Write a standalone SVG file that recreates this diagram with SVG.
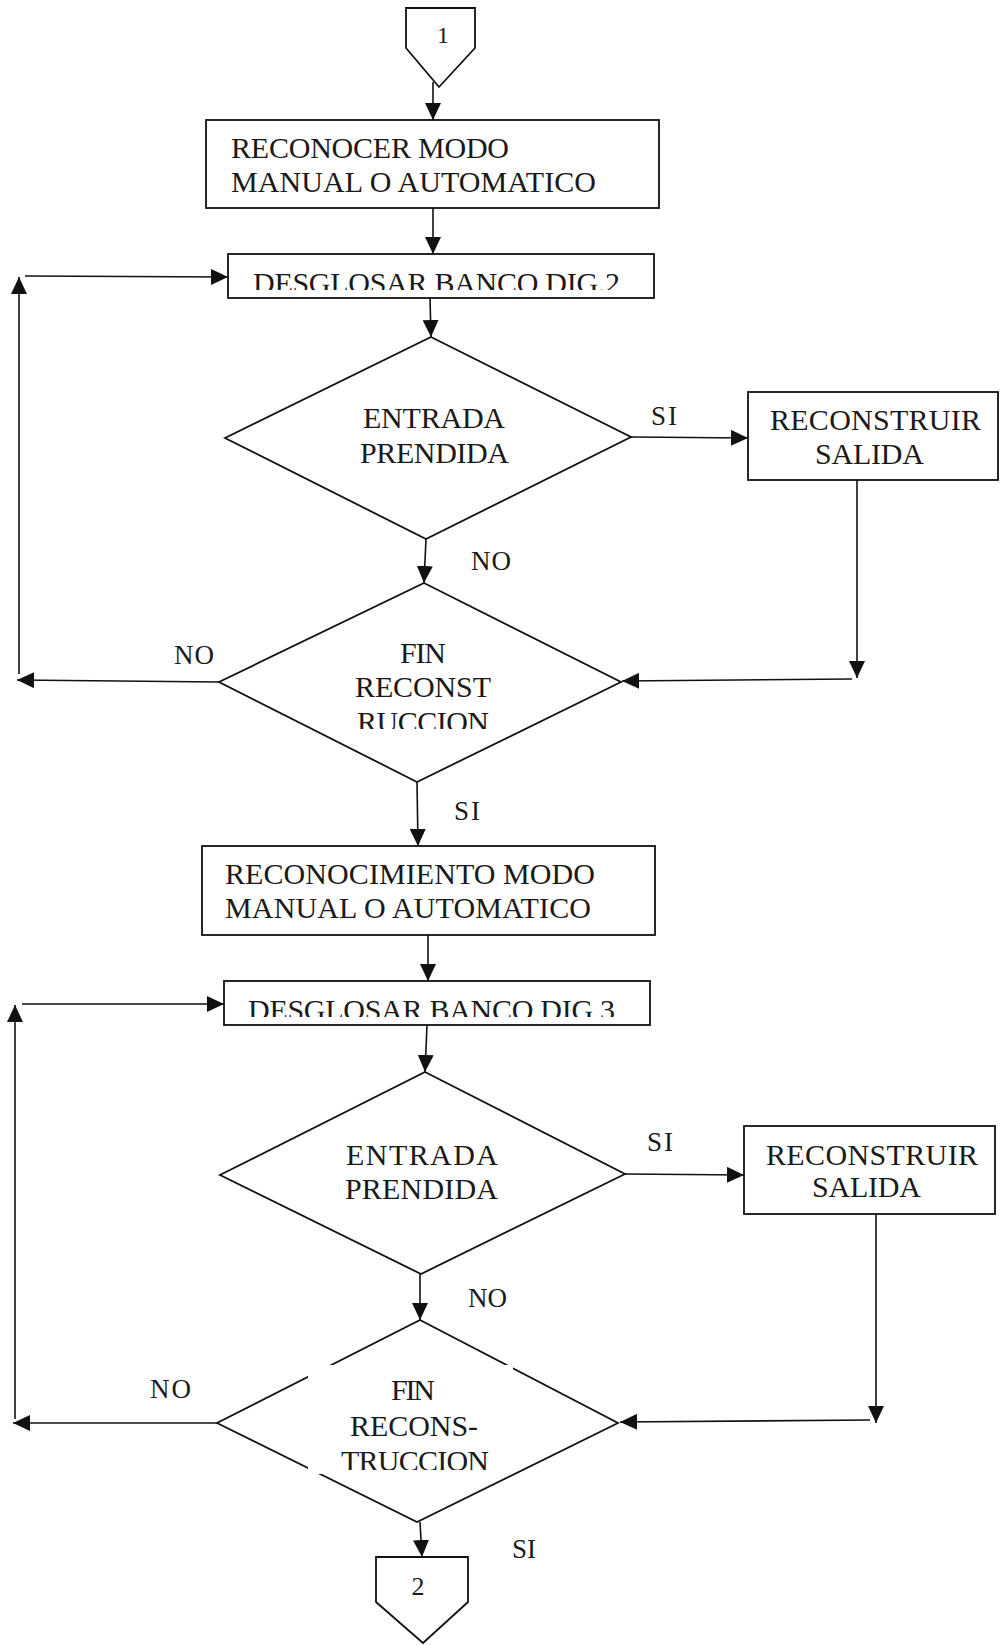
<svg xmlns="http://www.w3.org/2000/svg" width="1001" height="1645" viewBox="0 0 1001 1645">
  <style>
    .shape { fill: #fff; stroke: #111; stroke-width: 1.8; }
    .wire { fill: none; stroke: #111; stroke-width: 1.6; marker-end: url(#arrow); }
    .txt { font-family: "Liberation Serif", "Times New Roman", serif; font-size: 30px; fill: #1a1a1a; }
    .lbl { font-family: "Liberation Serif", "Times New Roman", serif; font-size: 27px; fill: #1a1a1a; }
    .num { font-family: "Liberation Serif", "Times New Roman", serif; fill: #1a1a1a; text-anchor: middle; }
  </style>
  <defs>
    <marker id="arrow" markerUnits="userSpaceOnUse" markerWidth="17" markerHeight="16" refX="17" refY="8" orient="auto">
      <path d="M0,0 L17,8 L0,16 z" fill="#111"/>
    </marker>
    <!-- text boxes whose last line is cut by the frame -->
    <clipPath id="clipDig2"><rect x="228" y="254" width="426" height="36"/></clipPath>
    <clipPath id="clipFin1"><rect x="330" y="640" width="190" height="89"/></clipPath>
    <clipPath id="clipDig3"><rect x="224" y="981" width="426" height="36"/></clipPath>
    <clipPath id="clipFin2"><rect x="308" y="1365" width="205" height="105"/></clipPath>
  </defs>

  <!-- connectors -->
  <g id="connectors">
    <path class="wire" d="M433,82 L433,120"/>
    <path class="wire" d="M433,208 L433,254"/>
    <path class="wire" d="M430,298 L431,337"/>
    <path class="wire" d="M631,437 L748,438"/>
    <path class="wire" d="M857,480 L857,678"/>
    <path class="wire" d="M852,679 L622,681"/>
    <path class="wire" d="M426,539 L424,583"/>
    <path class="wire" d="M219,682 L17,680"/>
    <path class="wire" d="M19,674 L19,277"/>
    <path class="wire" d="M25,276 L228,277"/>
    <path class="wire" d="M417,782 L418,846"/>
    <path class="wire" d="M428,935 L428,981"/>
    <path class="wire" d="M427,1025 L425,1072"/>
    <path class="wire" d="M625,1174 L744,1175"/>
    <path class="wire" d="M876,1214 L876,1423"/>
    <path class="wire" d="M870,1420 L620,1422"/>
    <path class="wire" d="M420,1274 L420,1320"/>
    <path class="wire" d="M217,1423 L13,1423"/>
    <path class="wire" d="M15,1419 L15,1005"/>
    <path class="wire" d="M22,1004 L224,1004"/>
    <path class="wire" d="M420,1522 L422,1557"/>
  </g>

  <!-- off-page connector 1 -->
  <g id="conn1">
    <path class="shape" d="M406,8 L475,8 L475,48 L439,87 L406,48 z"/>
    <text class="num" x="443" y="43" font-size="24">1</text>
  </g>

  <g id="box-reconocer">
    <rect class="shape" x="206" y="120" width="453" height="88"/>
    <text class="txt" x="231" y="158" textLength="278" lengthAdjust="spacing">RECONOCER MODO</text>
    <text class="txt" x="231" y="192" textLength="365" lengthAdjust="spacing">MANUAL O AUTOMATICO</text>
  </g>

  <g id="box-desglosar2">
    <rect class="shape" x="228" y="254" width="426" height="44"/>
    <text class="txt" x="253" y="293" textLength="367" lengthAdjust="spacing" clip-path="url(#clipDig2)">DESGLOSAR BANCO DIG.2</text>
  </g>

  <g id="dec-entrada1">
    <path class="shape" d="M431,337 L631,437 L426,539 L225,438 z"/>
    <text class="txt" x="363" y="428" textLength="142" lengthAdjust="spacing">ENTRADA</text>
    <text class="txt" x="360" y="463" textLength="149" lengthAdjust="spacing">PRENDIDA</text>
  </g>

  <g id="box-reconstruir1">
    <rect class="shape" x="748" y="392" width="250" height="88"/>
    <text class="txt" x="770" y="430" textLength="211" lengthAdjust="spacing">RECONSTRUIR</text>
    <text class="txt" x="815" y="464" textLength="109" lengthAdjust="spacing">SALIDA</text>
  </g>

  <g id="dec-fin1">
    <path class="shape" d="M424,583 L621,682 L417,782 L219,682 z"/>
    <text class="txt" x="400" y="663" textLength="46" lengthAdjust="spacing">FIN</text>
    <text class="txt" x="355" y="697" textLength="136" lengthAdjust="spacing">RECONST</text>
    <text class="txt" x="357" y="732" textLength="132" lengthAdjust="spacing" clip-path="url(#clipFin1)">RUCCION</text>
  </g>

  <g id="box-reconocimiento">
    <rect class="shape" x="202" y="846" width="453" height="89"/>
    <text class="txt" x="225" y="884" textLength="370" lengthAdjust="spacing">RECONOCIMIENTO MODO</text>
    <text class="txt" x="225" y="918" textLength="366" lengthAdjust="spacing">MANUAL O AUTOMATICO</text>
  </g>

  <g id="box-desglosar3">
    <rect class="shape" x="224" y="981" width="426" height="44"/>
    <text class="txt" x="248" y="1020" textLength="367" lengthAdjust="spacing" clip-path="url(#clipDig3)">DESGLOSAR BANCO DIG 3</text>
  </g>

  <g id="dec-entrada2">
    <path class="shape" d="M425,1072 L625,1174 L421,1274 L220,1175 z"/>
    <text class="txt" x="346" y="1165" textLength="152" lengthAdjust="spacing">ENTRADA</text>
    <text class="txt" x="345" y="1199" textLength="153" lengthAdjust="spacing">PRENDIDA</text>
  </g>

  <g id="box-reconstruir2">
    <rect class="shape" x="744" y="1126" width="251" height="88"/>
    <text class="txt" x="766" y="1165" textLength="212" lengthAdjust="spacing">RECONSTRUIR</text>
    <text class="txt" x="812" y="1197" textLength="109" lengthAdjust="spacing">SALIDA</text>
  </g>

  <g id="dec-fin2">
    <path class="shape" d="M420,1320 L618,1423 L417,1522 L217,1423 z"/>
    <!-- white text box laid over the diamond -->
    <rect x="308" y="1365" width="205" height="109" fill="#fff"/>
    <text class="txt" x="391" y="1400" textLength="44" lengthAdjust="spacing">FIN</text>
    <text class="txt" x="350" y="1436" textLength="128" lengthAdjust="spacing">RECONS-</text>
    <text class="txt" x="341" y="1471" textLength="148" lengthAdjust="spacing" clip-path="url(#clipFin2)">TRUCCION</text>
  </g>

  <!-- off-page connector 2 -->
  <g id="conn2">
    <path class="shape" d="M376,1557 L468,1557 L468,1602 L423,1643 L376,1602 z"/>
    <text class="num" x="418" y="1595" font-size="26">2</text>
  </g>

  <!-- branch labels -->
  <g id="labels">
    <text class="lbl" x="651" y="425" textLength="26" lengthAdjust="spacing">SI</text>
    <text class="lbl" x="471" y="570" textLength="40" lengthAdjust="spacing">NO</text>
    <text class="lbl" x="174" y="664" textLength="40" lengthAdjust="spacing">NO</text>
    <text class="lbl" x="454" y="820" textLength="26" lengthAdjust="spacing">SI</text>
    <text class="lbl" x="647" y="1151" textLength="26" lengthAdjust="spacing">SI</text>
    <text class="lbl" x="468" y="1307" textLength="39" lengthAdjust="spacing">NO</text>
    <text class="lbl" x="150" y="1398" textLength="41" lengthAdjust="spacing">NO</text>
    <text class="lbl" x="512" y="1558" textLength="24" lengthAdjust="spacing">SI</text>
  </g>
</svg>
